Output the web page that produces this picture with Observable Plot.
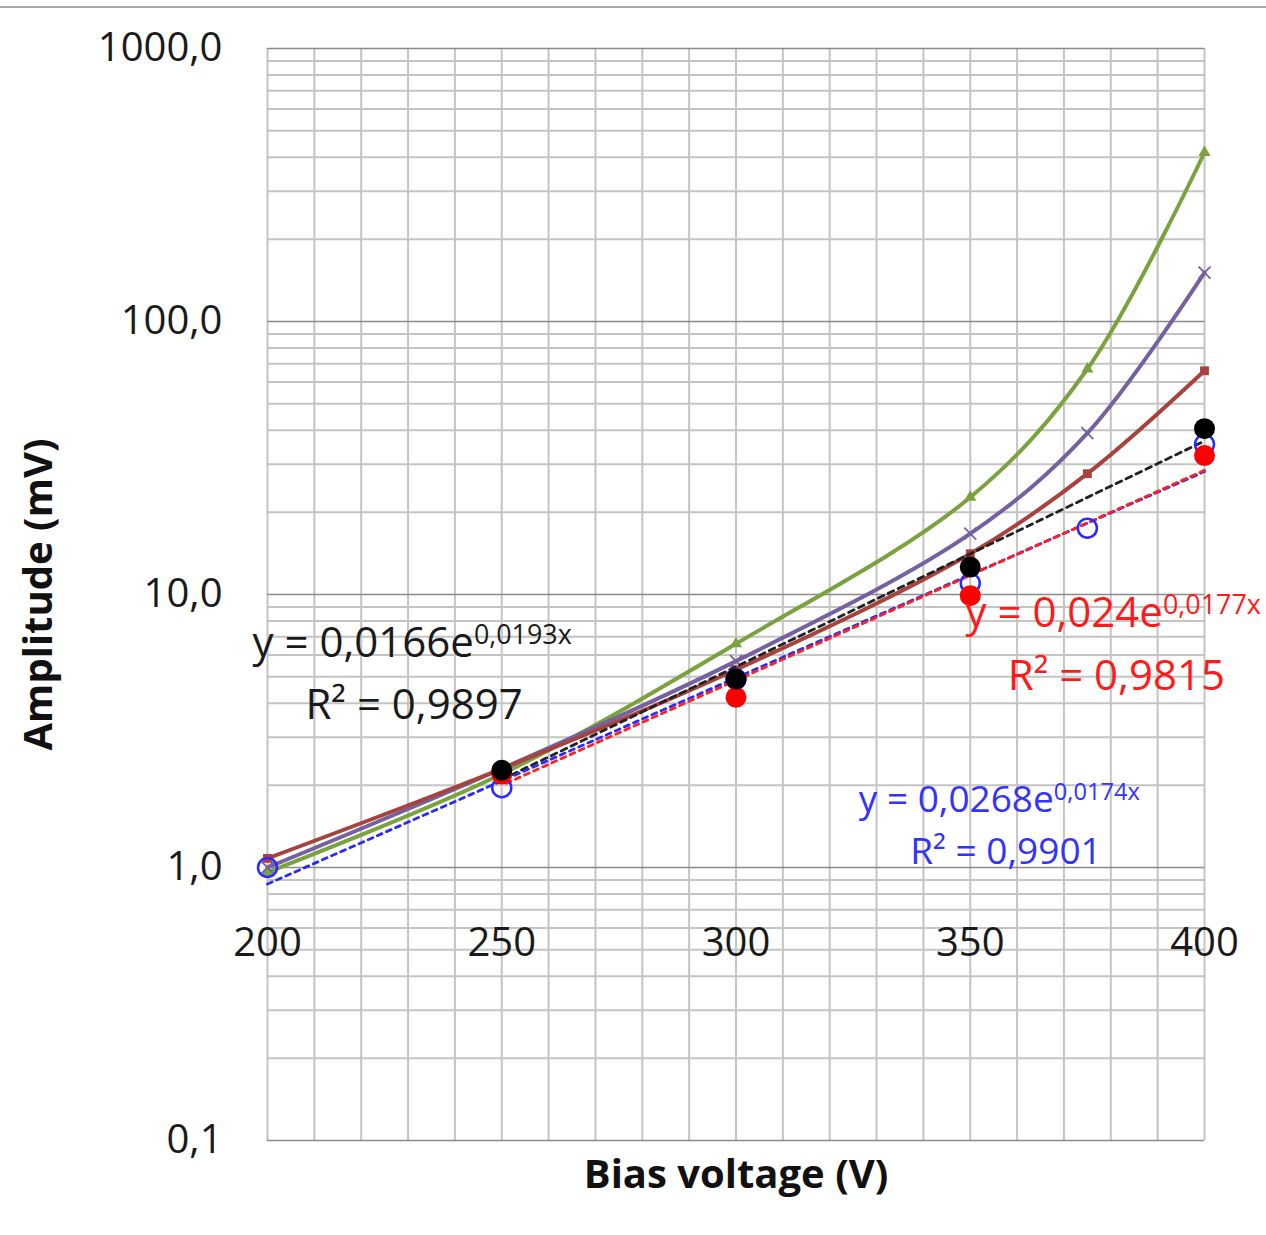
<!DOCTYPE html>
<html><head><meta charset="utf-8">
<script src="https://cdn.jsdelivr.net/npm/d3@7"></script>
<script src="https://cdn.jsdelivr.net/npm/@observablehq/plot@0.6"></script>
<style>
body{margin:0;background:#fff;}
#topline{position:absolute;left:0;top:6px;width:1266px;height:2px;background:#a6a6a6;}
#chart{position:absolute;left:0;top:0;}
</style>
</head><body>
<div id="chart"></div>
<div id="topline"></div>
<script>
// ---- data ----
const voltages = [200, 250, 300, 350, 375, 400];
const greenSeries = [0.96, 2.2, 6.6, 22.7, 67, 416];
const purpleSeries = [1.0, 2.3, 5.7, 16.7, 39, 151];
const brownSeries = [1.08, 2.3, 5.3, 14.1, 27.7, 66];

const dotVoltages = [250, 300, 350, 400];
const blackDots = [2.27, 4.9, 12.6, 40.5];
const redDots = [2.2, 4.2, 9.9, 32.3];

const blueVoltages = [200, 250, 300, 350, 375, 400];
const blueCircles = [1.0, 1.96, 4.9, 11, 17.5, 35.5];

const blackTrendX = [250, 400], blackTrendY = [2.1, 36.5];
const redTrendX = [250, 400], redTrendY = [2.0, 28.5];
const blueTrendX = [200, 400], blueTrendY = [0.87, 28.2];

const yTickValues = [0.1, 1, 10, 100, 1000];
const yTickLabels = ["0,1", "1,0", "10,0", "100,0", "1000,0"];
const xTickValues = [200, 250, 300, 350, 400];
const xTickLabels = ["200", "250", "300", "350", "400"];
const xGridValues = [200,210,220,230,240,250,260,270,280,290,300,310,320,330,340,350,360,370,380,390,400];
const decades = [0.1, 1, 10, 100, 1000];
const minorMultipliers = [2,3,4,5,6,7,8,9];

// equation labels: main text, superscript, anchor (V, mV), colour, size
const eqMain = ["y = 0,0166e", "y = 0,024e", "y = 0,0268e"];
const eqSup = ["0,0193x", "0,0177x", "0,0174x"];
const eqX = [196.8, 349, 326.2];
const eqY = [6.6, 8.5, 1.76];
const r2Text = ["R² = 0,9897", "R² = 0,9815", "R² = 0,9901"];
const r2X = [208.1, 358, 337.2];
const r2Y = [3.92, 5.0, 1.135];
const labelColors = ["#1a1a1a", "#ff1a1a", "#3333ff"];
const labelSizes = [42, 42, 37];

// ---- tables ----
const rows = (xs, ys) => xs.map((x, i) => ({v: x, a: ys[i]}));
const minorTicks = [];
decades.slice(0, -1).forEach(d => minorMultipliers.forEach(m => minorTicks.push(d * m)));
const eqRows = eqMain.map((t, i) => ({t, x: eqX[i], y: eqY[i], c: labelColors[i], s: labelSizes[i]}));
const r2Rows = r2Text.map((t, i) => ({t, x: r2X[i], y: r2Y[i], c: labelColors[i], s: labelSizes[i]}));

const FONT = "Open Sans";
const green = "#7aa23e", purple = "#7561a0", brown = "#a8423e";

const chart = Plot.plot({
  width: 1266, height: 1235,
  marginLeft: 267, marginRight: 62, marginTop: 48, marginBottom: 95,
  x: {domain: [200, 400], axis: null},
  y: {type: "log", domain: [0.1, 1000], axis: null},
  style: {fontFamily: FONT, background: "white", overflow: "visible"},
  marks: [
    Plot.ruleY(minorTicks, {stroke: "#c4c4c4", strokeWidth: 2}),
    Plot.ruleX(xGridValues, {stroke: "#c4c4c4", strokeWidth: 2}),
    Plot.ruleY(decades, {stroke: "#8a8a8a", strokeWidth: 1.6}),
    // smoothed series
    Plot.line(rows(voltages, greenSeries), {x: "v", y: "a", stroke: green, strokeWidth: 4, curve: "catmull-rom"}),
    Plot.line(rows(voltages, purpleSeries), {x: "v", y: "a", stroke: purple, strokeWidth: 4, curve: "catmull-rom"}),
    Plot.line(rows(voltages, brownSeries), {x: "v", y: "a", stroke: brown, strokeWidth: 4, curve: "catmull-rom"}),
    Plot.dot(rows(voltages, greenSeries), {x: "v", y: "a", symbol: "triangle", r: 4.5, fill: green}),
    Plot.dot(rows(voltages, purpleSeries), {x: "v", y: "a", symbol: "times", r: 5.5, stroke: purple, strokeWidth: 1.8}),
    Plot.dot(rows(voltages, brownSeries), {x: "v", y: "a", symbol: "square", r: 5, fill: brown}),
    // trend lines
    Plot.line(rows(blackTrendX, blackTrendY), {x: "v", y: "a", stroke: "#222", strokeWidth: 2.8, strokeDasharray: "6,5"}),
    Plot.line(rows(blueTrendX, blueTrendY), {x: "v", y: "a", stroke: "#2a2aff", strokeWidth: 2.8, strokeDasharray: "5,5"}),
    Plot.line(rows(redTrendX, redTrendY), {x: "v", y: "a", stroke: "#ff2020", strokeWidth: 2.8, strokeDasharray: "5,5", strokeDashoffset: 5}),
    // data points
    Plot.dot(rows(blueVoltages, blueCircles), {x: "v", y: "a", r: 9.5, stroke: "#2a2aff", strokeWidth: 2.5, fill: "none"}),
    Plot.dot(rows(dotVoltages, redDots), {x: "v", y: "a", r: 10.5, fill: "#ff0000"}),
    Plot.dot(rows(dotVoltages, blackDots), {x: "v", y: "a", r: 10.5, fill: "#000"}),
    // tick labels
    Plot.text(yTickValues, {y: d => d, text: (d, i) => yTickLabels[i], frameAnchor: "left", textAnchor: "end", dx: -45, fontSize: 40, fill: "#1a1a1a"}),
    Plot.text(xTickValues, {x: d => d, y: () => 1, text: (d, i) => xTickLabels[i], dy: 76, fontSize: 40, fill: "#1a1a1a"}),
    // axis titles
    Plot.text(["Amplitude (mV)"], {frameAnchor: "left", textAnchor: "middle", lineAnchor: "middle", dx: -228, rotate: -90, fontWeight: "bold", fontSize: 40, fill: "#111"}),
    Plot.text(["Bias voltage (V)"], {frameAnchor: "bottom", textAnchor: "middle", lineAnchor: "middle", dy: 35, fontWeight: "bold", fontSize: 40, fill: "#111"}),
    // equations
    Plot.text(eqRows, {x: "x", y: "y", text: "t", fill: "c", fontSize: "s", textAnchor: "start"}),
    Plot.text(r2Rows, {x: "x", y: "y", text: "t", fill: "c", fontSize: "s", textAnchor: "start"})
  ]
});

// superscripts for the exponential equations
d3.select(chart).selectAll("text").each(function() {
  const i = eqMain.indexOf(this.textContent);
  if (i >= 0) {
    d3.select(this).append("tspan").attr("dy", "-0.5em").attr("font-size", "0.64em").text(eqSup[i]);
  }
});

document.getElementById("chart").append(chart);
</script>
</body></html>
